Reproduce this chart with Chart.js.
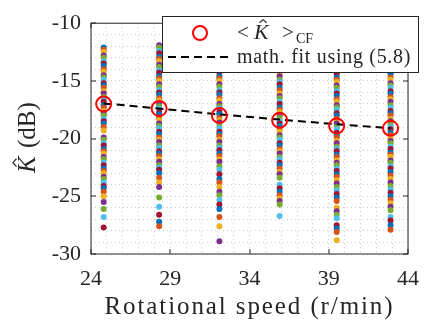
<!DOCTYPE html>
<html>
<head>
<meta charset="utf-8">
<script src="https://cdn.jsdelivr.net/npm/chart.js@4/dist/chart.umd.min.js"></script>
<style>
  html, body { margin: 0; padding: 0; background: #fff; }
</style>
</head>
<body>
<canvas id="kchart" width="431" height="326"></canvas>
<script>
// rotational speeds (r/min) where the K-factor was estimated
const speeds = [24.8, 28.3, 32.1, 35.9, 39.5, 42.9];

// individual K-hat estimates (dB), one list per speed
const kAt248 = [-12.1, -12.3, -12.5, -12.8, -13.0, -13.3, -13.5, -13.7, -14.0, -14.2, -14.5, -14.7, -14.9, -15.2,
  -15.4, -15.6, -15.9, -16.1, -16.4, -16.6, -16.8, -17.1, -17.3, -17.6, -17.8, -18.0, -18.3, -18.5, -18.7, -19.0,
  -19.3, -19.9, -20.1, -20.4, -20.6, -20.9, -21.1, -21.3, -21.6, -21.8, -22.1, -22.3, -22.6, -22.8, -23.0, -23.3,
  -23.5, -23.8, -24.1, -24.3, -24.6, -25.0, -25.5, -26.1, -26.8, -27.7];
const kAt283 = [-11.9, -12.1, -12.4, -12.6, -12.9, -13.1, -13.3, -13.6, -13.8, -14.1, -14.3, -14.6, -14.8, -15.0,
  -15.3, -15.5, -15.8, -16.0, -16.2, -16.5, -16.7, -17.0, -17.2, -17.4, -17.7, -17.9, -18.2, -18.4, -18.7, -18.9,
  -19.1, -19.4, -19.6, -19.9, -20.1, -20.3, -20.6, -20.8, -21.1, -21.3, -21.5, -21.8, -22.0, -22.3, -22.5, -22.7,
  -23.0, -23.4, -23.8, -24.2, -25.1, -25.9, -26.6, -27.2, -27.6];
const kAt321 = [-12.6, -12.9, -13.1, -13.4, -13.6, -13.8, -14.1, -14.3, -14.6, -14.8, -15.0, -15.3, -15.5, -15.8,
  -16.0, -16.2, -16.5, -16.7, -17.0, -17.2, -17.4, -17.7, -17.9, -18.2, -18.4, -18.6, -18.9, -19.1, -19.4, -19.6,
  -19.8, -20.1, -20.3, -20.6, -20.8, -21.0, -21.3, -21.5, -21.8, -22.0, -22.4, -22.7, -23.1, -23.5, -23.8, -24.2,
  -24.6, -24.9, -25.3, -25.7, -26.1, -26.8, -27.6, -28.9];
const kAt359 = [-12.7, -12.9, -13.2, -13.4, -13.7, -13.9, -14.1, -14.4, -14.6, -14.9, -15.1, -15.3, -15.6, -15.8,
  -16.1, -16.3, -16.5, -16.8, -17.0, -17.3, -17.5, -17.7, -18.0, -18.2, -18.5, -18.7, -18.9, -19.2, -19.4, -19.7,
  -19.9, -20.1, -20.4, -20.6, -20.9, -21.1, -21.3, -21.6, -21.8, -22.1, -22.3, -22.6, -22.9, -23.1, -23.4, -24.0,
  -24.3, -24.6, -24.9, -25.2, -25.4, -25.7, -26.7];
const kAt395 = [-12.5, -12.7, -13.0, -13.2, -13.5, -13.7, -13.9, -14.2, -14.4, -14.7, -14.9, -15.1, -15.4, -15.6,
  -15.9, -16.1, -16.3, -16.6, -16.8, -17.1, -17.3, -17.5, -17.8, -18.0, -18.3, -18.5, -18.7, -19.0, -19.2, -19.5,
  -19.7, -19.9, -20.2, -20.4, -20.7, -20.9, -21.1, -21.4, -21.6, -21.9, -22.1, -22.3, -22.6, -22.8, -23.1, -23.3,
  -23.6, -23.9, -24.2, -24.5, -24.8, -25.1, -25.4, -26.0, -26.3, -26.6, -26.9, -27.5, -27.8, -28.1, -28.8];
const kAt429 = [-13.0, -13.2, -13.5, -13.7, -14.0, -14.2, -14.4, -14.7, -14.9, -15.2, -15.4, -15.6, -15.9, -16.1,
  -16.4, -16.6, -16.8, -17.1, -17.3, -17.6, -17.8, -18.0, -18.3, -18.5, -18.8, -19.0, -19.2, -19.5, -19.7, -20.0,
  -20.2, -20.4, -20.7, -20.9, -21.2, -21.4, -21.6, -21.9, -22.1, -22.4, -22.6, -22.9, -23.2, -23.5, -23.8, -24.1,
  -24.4, -24.7, -25.0, -25.3, -25.6, -25.9, -26.2, -26.8, -27.1, -27.5, -27.9];
const kColumns = [kAt248, kAt283, kAt321, kAt359, kAt395, kAt429];

// <K>_CF per speed and the fitted curve from (5.8)
const meanK = [-17.0, -17.4, -18.0, -18.4, -18.9, -19.1];
const fitK = [-16.95, -17.4, -17.9, -18.35, -18.75, -19.1];

const xTicks = [24, 29, 34, 39, 44];
const yTicks = [-30, -25, -20, -15, -10];

const lineColors = ['#0072BD', '#D95319', '#EDB120', '#7E2F8E', '#77AC30', '#4DBEEE', '#A2142F'];
const axisColor = '#262626';
const serif = '"Liberation Serif", "Times New Roman", serif';

const dotSets = kColumns.map((col, c) => ({
  data: col.map(v => ({ x: speeds[c], y: v })),
  pointRadius: 3,
  pointBorderWidth: 0,
  pointBackgroundColor: ctx => lineColors[(ctx.dataIndex + c * 3) % lineColors.length],
  order: 3
}));

// italic K with a hat, at baseline (x, y); returns width used
function hatK(ctx, x, y, size) {
  ctx.font = 'italic ' + size + 'px ' + serif;
  ctx.fillText('K', x, y);
  const w = ctx.measureText('K').width;
  const top = y - size * 0.68;
  ctx.beginPath();
  ctx.moveTo(x + w * 0.38, top - size * 0.06);
  ctx.lineTo(x + w * 0.62, top - size * 0.2);
  ctx.lineTo(x + w * 0.86, top - size * 0.06);
  ctx.lineWidth = size * 0.05;
  ctx.stroke();
  return w;
}

const frame = {
  id: 'frame',
  afterDraw(chart) {
    const { ctx, chartArea: a, scales: { x, y } } = chart;
    ctx.save();
    ctx.strokeStyle = axisColor;
    ctx.fillStyle = axisColor;
    ctx.lineWidth = 1;

    // box and inward tick marks
    ctx.strokeRect(a.left, a.top, a.right - a.left, a.bottom - a.top);
    ctx.beginPath();
    xTicks.forEach(t => {
      const px = Math.round(x.getPixelForValue(t));
      ctx.moveTo(px, a.bottom); ctx.lineTo(px, a.bottom - 5);
      ctx.moveTo(px, a.top); ctx.lineTo(px, a.top + 5);
    });
    yTicks.forEach(t => {
      const py = Math.round(y.getPixelForValue(t));
      ctx.moveTo(a.left, py); ctx.lineTo(a.left + 5, py);
      ctx.moveTo(a.right, py); ctx.lineTo(a.right - 5, py);
    });
    ctx.stroke();

    // axis titles
    ctx.textBaseline = 'alphabetic';
    ctx.font = '25px ' + serif;
    ctx.letterSpacing = '1.9px';
    ctx.textAlign = 'center';
    ctx.fillText('Rotational speed (r/min)', (a.left + a.right) / 2, 314);
    ctx.letterSpacing = '0px';

    ctx.save();
    ctx.translate(35, (a.top + a.bottom) / 2);
    ctx.rotate(-Math.PI / 2);
    ctx.textAlign = 'left';
    ctx.font = '25px ' + serif;
    const rest = ' (dB)';
    const restW = ctx.measureText(rest).width;
    ctx.font = 'italic 25px ' + serif;
    const kW = ctx.measureText('K').width;
    const x0 = -(kW + restW) / 2;
    hatK(ctx, x0, 0, 25);
    ctx.font = '25px ' + serif;
    ctx.fillText(rest, x0 + kW + 2, 0);
    ctx.restore();

    // legend box
    const lx = 162, ly = 16, lw = 256, lh = 56;
    ctx.fillStyle = '#fff';
    ctx.fillRect(lx, ly, lw, lh);
    ctx.strokeStyle = axisColor;
    ctx.strokeRect(lx + 0.5, ly + 0.5, lw, lh);

    ctx.beginPath();
    ctx.arc(200, 33, 7, 0, Math.PI * 2);
    ctx.strokeStyle = '#ff0000';
    ctx.lineWidth = 2;
    ctx.stroke();

    ctx.beginPath();
    ctx.setLineDash([8, 5]);
    ctx.moveTo(168, 57); ctx.lineTo(228, 57);
    ctx.strokeStyle = '#000';
    ctx.stroke();
    ctx.setLineDash([]);

    ctx.fillStyle = axisColor;
    ctx.strokeStyle = axisColor;
    ctx.textAlign = 'left';
    ctx.font = '21px ' + serif;
    ctx.fillText('<', 237, 39);
    const kw = hatK(ctx, 254, 39, 22);
    ctx.font = '21px ' + serif;
    ctx.fillText('>', 282, 39);
    ctx.font = '14px ' + serif;
    ctx.fillText('CF', 296, 43);

    ctx.font = '20px ' + serif;
    ctx.letterSpacing = '0.7px';
    ctx.fillText('math. fit using (5.8)', 237, 63);
    ctx.letterSpacing = '0px';
    ctx.restore();
  }
};

new Chart(document.getElementById('kchart'), {
  type: 'scatter',
  data: {
    datasets: [
      {
        data: speeds.map((s, i) => ({ x: s, y: meanK[i] })),
        pointRadius: 7.5,
        pointBorderWidth: 2,
        pointBorderColor: '#ff0000',
        pointBackgroundColor: 'rgba(0,0,0,0)',
        order: 1
      },
      {
        data: speeds.map((s, i) => ({ x: s, y: fitK[i] })),
        showLine: true,
        borderColor: '#000',
        borderWidth: 2,
        borderDash: [8, 5],
        pointRadius: 0,
        order: 2
      },
      ...dotSets
    ]
  },
  options: {
    responsive: false,
    animation: false,
    devicePixelRatio: 1,
    layout: { padding: { top: 10, right: 12, left: 0, bottom: 0 } },
    plugins: { legend: { display: false }, tooltip: { enabled: false } },
    scales: {
      x: {
        type: 'linear',
        min: 24, max: 44,
        afterFit: s => { s.height = 72; },
        ticks: {
          stepSize: 1, autoSkip: false, maxRotation: 0, padding: 12,
          color: axisColor,
          font: { family: serif, size: 22 },
          callback: v => (xTicks.includes(v) ? String(v) : '')
        },
        grid: { color: '#cccccc', drawTicks: false },
        border: { display: false, dash: [1, 3] }
      },
      y: {
        min: -30, max: -10,
        afterFit: s => { s.width = 91; },
        ticks: {
          stepSize: 1, autoSkip: false, padding: 10,
          color: axisColor,
          font: { family: serif, size: 22 },
          callback: v => (yTicks.includes(v) ? String(v) : '')
        },
        grid: { color: '#cccccc', drawTicks: false },
        border: { display: false, dash: [1, 3] }
      }
    }
  },
  plugins: [frame]
});
</script>
</body>
</html>
